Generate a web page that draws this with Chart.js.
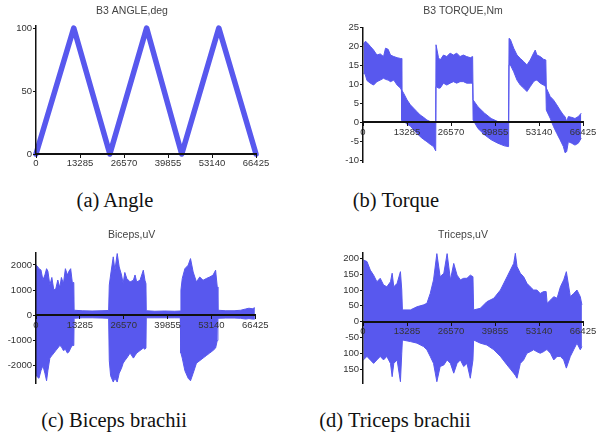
<!DOCTYPE html>
<html><head><meta charset="utf-8">
<script src="https://cdn.jsdelivr.net/npm/chart.js@4.4.0/dist/chart.umd.min.js"></script>
<style>
body{margin:0;background:#fff;width:605px;height:438px;overflow:hidden;position:relative;}
canvas{position:absolute;}
.cap{position:absolute;font-family:'Liberation Serif','Times New Roman',serif;font-size:20.5px;line-height:20.5px;color:#111;text-align:center;width:240px;white-space:nowrap;}
</style></head><body>
<canvas id="ca" width="268" height="175" style="left:8px;top:0px"></canvas>
<canvas id="cb" width="260" height="175" style="left:343px;top:0px"></canvas>
<canvas id="cc" width="268" height="170" style="left:8px;top:222px"></canvas>
<canvas id="cd" width="260" height="170" style="left:343px;top:222px"></canvas>
<div class="cap" style="left:-5px;top:190px">(a) Angle</div>
<div class="cap" style="left:276px;top:190px">(b) Torque</div>
<div class="cap" style="left:-6px;top:410px">(c) Biceps brachii</div>
<div class="cap" style="left:275px;top:410px">(d) Triceps brachii</div>
<script>
// ---- data ----
const titles = ['B3 ANGLE,deg', 'B3 TORQUE,Nm', 'Biceps,uV', 'Triceps,uV'];
const xTicks = [0, 13285, 26570, 39855, 53140, 66425];
const angleTicks = [0, 50, 100];
const torqueTicks = [-10, -5, 0, 5, 10, 15, 20, 25];
const bicepsTicks = [-2000, -1000, 0, 1000, 2000];
const tricepsTicks = [-150, -100, -50, 0, 50, 100, 150, 200];

const angleX = [0, 11400, 22300, 33400, 44000, 55200, 66425];
const angleDeg = [0, 100, 0, 100, 0, 100, 0];

const torqueX = [150, 700, 1200, 2200, 3200, 4200, 5200, 6200, 6800, 7600, 8300, 9300, 10300, 11300, 11600,
  11700, 12300, 13300, 14300, 15300, 16300, 17300, 18300, 19300, 20300, 21300, 21950,
  22050, 22800, 23300, 24300, 25300, 26300, 27300, 28300, 29300, 30300, 31300, 32400, 33100,
  33250, 34700, 36700, 38700, 40700, 42700, 43950,
  44100, 44500, 45500, 46500, 47500, 48500, 49500, 50500, 51500, 52000, 52500, 53500, 54500, 55200,
  55350, 56500, 57500, 58500, 59500, 60500, 61000, 61500, 62000, 63000, 64000, 65000, 65900];
const torqueHigh = [20.5, 21.3, 21, 20, 19, 17.7, 18, 17.3, 19.5, 19.2, 17.7, 17.3, 17, 16.8, 16.8,
  8.5, 7.6, 5.9, 4.6, 3.7, 2.8, 1.9, 1.3, 0.6, 0.2, 0, 0,
  20.4, 17, 16.4, 17.7, 17.3, 18.2, 17.7, 18.2, 17.3, 17.7, 17.3, 17, 17.3,
  5.9, 4.1, 2.4, 1, 0.2, 0, 0,
  22.1, 21.8, 19.5, 17.7, 16.8, 16, 15.1, 16.4, 18.2, 19, 17.7, 17.3, 16.6, 16.4,
  9, 6.8, 5.9, 4.6, 3.2, 1.9, 1.5, 0.2, 1.5, 1.3, 1, 1.5, 2.4];
const torqueLow = [13, 12.5, 11, 10.3, 9.8, 10.7, 11.1, 11.6, 11.3, 11.1, 10.7, 11.1, 9.8, 9, 8.5,
  0.5, 0.3, -0.5, -1, -2, -2.9, -3.8, -4.5, -5.1, -5.8, -6.4, -7.5,
  9.4, 9, 9, 10.3, 9.8, 10.3, 10.7, 10.3, 10.7, 10.7, 10.3, 10.3, 10.3,
  0.6, -1.6, -3.3, -4.6, -5.5, -6.2, -6.4,
  15.1, 15.1, 13.3, 11.1, 9.8, 9, 8.1, 9.4, 10.7, 11, 11.1, 10.3, 9.8, 9.4,
  3.2, 1.1, -1.1, -2.9, -4.6, -6.4, -8, -7.7, -5.1, -5.5, -6, -5.5, -4.2];

const bicepsX = [0, 400, 900, 1500, 2100, 2700, 3200, 3600, 4200, 4800, 5400, 6000, 6600, 7200, 7700, 8300, 8900, 9500, 10000, 10500, 11000, 11450,
  11550, 14000, 17000, 20000, 22000,
  22200, 22600, 23400, 23900, 24600, 25200, 25900, 26400, 26900, 27500, 28500, 29500, 30000, 30500, 31500, 32500, 33000, 33300,
  33400, 36000, 39000, 42000, 43700,
  43900, 44300, 45100, 46100, 46800, 47600, 48600, 49600, 50600, 51600, 52600, 53600, 54400, 54900,
  55100, 57500, 60000, 62000, 63500, 64500, 65500, 66300];
const bicepsHigh = [2000, 1950, 1850, 1800, 1400, 1600, 1850, 1750, 1200, 1500, 1000, 1050, 1400, 1100, 1500, 1250, 1850, 1600, 1750, 1850, 1300, 1300,
  200, 180, 170, 180, 190,
  1200, 1600, 2320, 1790, 2450, 1920, 1600, 1260, 1700, 1460, 1325, 1390, 1600, 1325, 1390, 1790, 1390, 1260,
  180, 160, 170, 160, 170,
  1000, 1460, 1850, 1990, 2250, 1720, 1325, 1520, 1390, 1460, 1520, 1590, 1790, 1125,
  200, 180, 180, 200, 250, 280, 260, 300];
const bicepsLow = [-2350, -2450, -2500, -2200, -2000, -2300, -2600, -2200, -1700, -1600, -1500, -1400, -1300, -1200, -1250, -1400, -1350, -1500, -1450, -1300, -1200, -1200,
  -120, -100, -100, -110, -120,
  -1800, -2400, -2650, -2500, -2650, -2300, -2100, -1900, -1800, -1700, -1500, -1700, -1600, -1500, -1400, -1300, -1350, -1300,
  -100, -100, -100, -100, -100,
  -1500, -1700, -2200, -2500, -2600, -2300, -1900, -1800, -1700, -1600, -1500, -1400, -1300, -1000,
  -120, -110, -110, -120, -150, -130, -150, -150];

const tricepsX = [100, 1200, 2200, 3200, 4200, 5200, 6200, 7200, 8300, 8800, 9300, 10300, 11300, 11700,
  11900, 14300, 16300, 18300, 19300, 20300, 21300, 22300, 23300, 24400, 25400, 26400, 27400, 28400, 29400, 30400, 31400, 32400, 33200,
  33400, 35400, 37400, 39500, 41500, 43500, 44500, 45500, 46000, 46500, 47500, 48500, 49500, 50500, 51500, 52500, 53500, 54500, 55300,
  55600, 56600, 57600, 58600, 59600, 60600, 61400, 62600, 63600, 64600, 65600, 66100];
const tricepsHigh = [195, 190, 163, 147, 126, 137, 116, 110, 126, 153, 110, 121, 158, 100,
  37, 37, 47, 53, 58, 89, 132, 215, 142, 153, 215, 132, 184, 147, 132, 137, 137, 147, 142,
  37, 42, 63, 74, 100, 142, 163, 184, 216, 174, 153, 142, 121, 110, 100, 100, 89, 95, 95,
  58, 68, 79, 74, 110, 132, 158, 79, 89, 100, 79, 53];
const tricepsLow = [-121, -110, -121, -132, -121, -110, -121, -110, -132, -174, -132, -121, -190, -100,
  -58, -63, -68, -79, -89, -110, -132, -190, -142, -137, -121, -132, -163, -132, -121, -142, -132, -179, -121,
  -58, -68, -74, -89, -110, -137, -150, -163, -170, -179, -132, -121, -100, -95, -89, -95, -100, -95, -89,
  -89, -100, -121, -110, -110, -121, -147, -110, -89, -68, -89, -79];

// ---- drawing ----
const BLUE = '#5858ee';
const tickFont = {family: "'Liberation Sans', Arial, sans-serif", size: 9.5};
const pts = (xs, ys) => xs.map((x, i) => ({x: x, y: ys[i]}));

function makeChart(id, title, datasets, yMin, yMax, yTicks, yW, padR, padB, tTop, tBot) {
  const grid = {display: true, drawOnChartArea: false, drawTicks: true, tickLength: 3, color: '#111', lineWidth: 1, z: 1};
  return new Chart(document.getElementById(id), {
    type: 'line',
    data: {datasets: datasets},
    options: {
      responsive: false, animation: false, devicePixelRatio: 1,
      layout: {padding: {left: 0, right: padR, top: 0, bottom: padB}},
      plugins: {
        legend: {display: false}, tooltip: {enabled: false},
        title: {display: true, text: title, color: '#444',
          font: {family: "'Liberation Sans', Arial, sans-serif", size: 10.5, weight: 'normal'},
          padding: {top: tTop, bottom: tBot}}
      },
      elements: {point: {radius: 0}, line: {tension: 0}},
      scales: {
        x: {type: 'linear', min: 0, max: 66425, position: {y: 0},
          afterBuildTicks: s => { s.ticks = xTicks.map(v => ({value: v})); },
          grid: grid,
          border: {display: true, color: '#111', width: 2, z: 1},
          ticks: {autoSkip: false, maxRotation: 0, padding: 1, font: tickFont, color: '#333', z: 1, callback: v => String(v)}},
        y: {type: 'linear', min: yMin, max: yMax, position: 'left',
          afterBuildTicks: s => { s.ticks = yTicks.map(v => ({value: v})); },
          afterFit: s => { s.width = yW; },
          grid: grid,
          border: {display: true, color: '#111', width: 1.5, z: 1},
          ticks: {padding: 1, font: tickFont, color: '#333', z: 1, callback: v => String(v)}}
      }
    }
  });
}

function band(xs, hi, lo) {
  return [
    {data: pts(xs, hi), borderColor: BLUE, backgroundColor: BLUE, borderWidth: 1, fill: '+1'},
    {data: pts(xs, lo), borderColor: BLUE, backgroundColor: BLUE, borderWidth: 1, fill: false}
  ];
}

makeChart('ca', titles[0],
  [{data: pts(angleX, angleDeg), borderColor: BLUE, borderWidth: 5.5, fill: false, borderJoinStyle: 'round', borderCapStyle: 'round', clip: false}],
  0, 102, angleTicks, 28, 20, 21, 4.7, 8.2);
makeChart('cb', titles[1], band(torqueX, torqueHigh, torqueLow),
  -10.5, 25, torqueTicks, 20, 20, 12.8, 4.7, 10);
makeChart('cc', titles[2], band(bicepsX, bicepsHigh, bicepsLow),
  -2700, 2500, bicepsTicks, 28, 20.7, 8.7, 6.7, 11);
makeChart('cd', titles[3], band(tricepsX, tricepsHigh, tricepsLow),
  -195, 217, tricepsTicks, 20, 20, 8.7, 6.7, 11.7);
</script>
</body></html>
